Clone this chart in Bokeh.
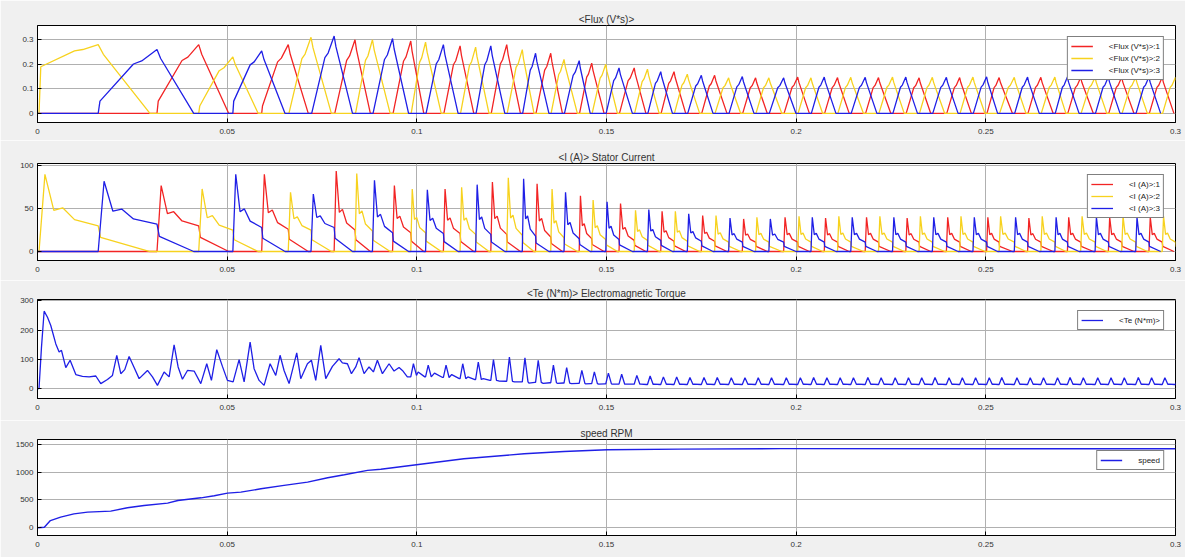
import numpy as np
from bokeh.plotting import figure
from bokeh.layouts import column
from bokeh.models import Range1d, FixedTicker, Legend, LegendItem
from bokeh.embed import file_html
from bokeh.resources import INLINE

# ---------------- data ----------------
time_ticks = [0, 0.05, 0.1, 0.15, 0.2, 0.25, 0.3]
time_labels = ["0", "0.05", "0.1", "0.15", "0.2", "0.25", "0.3"]

# commutation instants (s): turn-on of pulse n / turn-off (flux peak) of pulse n-1
switch_t = [0.0004, 0.0160, 0.0315, 0.0425, 0.0515, 0.0591, 0.0661, 0.0721, 0.0782, 0.0837,
            0.0883, 0.0936, 0.0984, 0.1023, 0.1070, 0.1114, 0.1155, 0.1195, 0.1237, 0.1278,
            0.1313, 0.1353, 0.1388, 0.1428, 0.1461, 0.1498, 0.1533, 0.1573, 0.1608, 0.1643,
            0.1678, 0.1713, 0.1750, 0.1785, 0.1822, 0.1858, 0.1893, 0.1928, 0.1967, 0.2004,
            0.2039, 0.2074, 0.2109, 0.2144, 0.2182, 0.2217, 0.2254, 0.2289, 0.2324, 0.2359,
            0.2396, 0.2431, 0.2466, 0.2502, 0.2535, 0.2575, 0.2610, 0.2645, 0.2682, 0.2715,
            0.2750, 0.2788, 0.2823, 0.2858, 0.2895, 0.2930, 0.2965, 0.3000]
phase_cycle = [2, 3, 1]          # pulse n belongs to phase phase_cycle[n % 3]

flux_peak = [0.28, 0.26, 0.28, 0.23, 0.255, 0.28, 0.31, 0.315, 0.30, 0.30, 0.305, 0.295,
             0.29, 0.28, 0.275, 0.27, 0.275, 0.28, 0.26, 0.245, 0.245, 0.22, 0.215, 0.205,
             0.20, 0.185, 0.185, 0.18, 0.17, 0.17, 0.16, 0.155, 0.155, 0.145, 0.15, 0.145,
             0.145, 0.145, 0.148, 0.145, 0.148, 0.146, 0.147, 0.147, 0.146, 0.148, 0.148,
             0.145, 0.147, 0.147, 0.146, 0.148, 0.149, 0.146, 0.147, 0.148, 0.147, 0.148,
             0.148, 0.146, 0.147, 0.148, 0.147, 0.147, 0.148, 0.147, 0.147]
flux_step = [0.19, 0.05, 0.05, 0.03, 0.05, 0.03]

current_spike = [90, 82, 77, 73, 90, 90, 69, 67, 94, 91, 83, 77, 73, 72, 73, 75, 78, 81,
                 86, 85, 79, 73, 69, 65, 60, 58, 56, 48, 49, 47, 47, 44, 42, 42, 39, 38,
                 40, 38, 40, 41, 40, 39, 41, 40, 40, 41, 40, 39, 41, 40, 40, 41, 40, 40,
                 41, 40, 39, 41, 40, 40, 41, 40, 40, 41, 40, 40, 41]
current_hold = [30, 32, 30, 25, 28, 26, 25, 28, 25, 24, 22, 22, 22, 21, 21, 20, 20, 20,
                19, 18, 17, 16, 15, 15, 14, 14, 13, 13, 13, 12, 12, 12, 12, 11, 11, 11,
                11, 11, 11, 11, 11, 11, 11, 11, 11, 11, 11, 11, 11, 11, 11, 11, 11, 11,
                11, 11, 11, 11, 11, 11, 11, 11, 11, 11, 11, 11, 11]

torque_t = [0, 0.0004, 0.00105, 0.00175, 0.00263, 0.0035, 0.00483, 0.0057, 0.00632, 0.00746,
            0.0086, 0.0101, 0.01185, 0.0136, 0.01537, 0.01668, 0.01844, 0.01976, 0.0209,
            0.02196, 0.023, 0.02415, 0.02547, 0.02679, 0.02899, 0.03031, 0.03162, 0.03338,
            0.0347, 0.03601, 0.03707, 0.03821, 0.03953, 0.04129, 0.04305, 0.04462, 0.04585,
            0.04726, 0.04875, 0.05007, 0.05157, 0.05315, 0.05447, 0.05605, 0.0571, 0.05842,
            0.05974, 0.06132, 0.06281, 0.06395, 0.065, 0.06632, 0.06834, 0.0694, 0.07116,
            0.07221, 0.07335, 0.07467, 0.07599, 0.07775, 0.0795, 0.08038, 0.0817, 0.08276,
            0.0839, 0.08477, 0.08609, 0.08741, 0.08855, 0.0896, 0.09093, 0.09268, 0.094,
            0.09532, 0.0962, 0.0975]
torque_v = [0, 0, 142, 265, 244, 216, 153, 125, 131, 72, 97, 48, 42, 40, 43, 17, 31, 45, 114,
            51, 65, 110, 72, 34, 62, 40, 11, 57, 40, 150, 74, 32, 62, 60, 17, 85, 28, 133, 76,
            28, 23, 99, 23, 159, 68, 28, 11, 85, 45, 114, 62, 17, 122, 34, 85, 97, 28, 148, 34,
            76, 102, 88, 85, 51, 74, 106, 51, 74, 57, 97, 51, 85, 60, 72, 62, 40]
torque_first_event = 12
torque_spike = [85, 80, 80, 85, 91, 99, 108, 105, 97, 80, 72, 62, 57, 53, 49, 45, 43, 40,
                40, 38, 38, 38, 37, 37, 37, 37, 37, 37, 38, 37, 37, 37, 38, 37, 37, 37, 37,
                38, 37, 37, 37, 37, 38, 37, 37, 37, 37, 38, 37, 37, 37, 37, 38, 37, 37, 37]
torque_dip = [45, 40, 38, 34, 31, 28, 25, 23, 21, 20, 19, 18, 17, 16, 15, 15, 14, 14, 14,
              14, 14, 14, 14, 14, 14, 14, 14, 14, 14, 14, 14, 14, 14, 14, 14, 14, 14, 14,
              14, 14, 14, 14, 14, 14, 14, 14, 14, 14, 14, 14, 14, 14, 14, 14, 14, 14]
torque_mid = [57, 53, 48, 40, 34, 26, 23, 19, 18, 18, 17, 16, 15, 15, 15, 15, 15, 15, 15,
              15, 15, 15, 15, 15, 15, 15, 15, 15, 15, 15, 15, 15, 15, 15, 15, 15, 15, 15,
              15, 15, 15, 15, 15, 15, 15, 15, 15, 15, 15, 15, 15, 15, 15, 15, 15, 15]

speed_t = [0, 0.0018, 0.0034, 0.0061, 0.0096, 0.0132, 0.0193, 0.0237, 0.0281, 0.0343, 0.037,
           0.0431, 0.0466, 0.0501, 0.0536, 0.0589, 0.065, 0.0712, 0.0765, 0.0809, 0.087,
           0.0905, 0.0999, 0.1124, 0.1283, 0.1388, 0.1502, 0.1695, 0.1959, 0.25, 0.3]
speed_rpm = [-10, 0, 121, 182, 242, 273, 291, 352, 394, 436, 485, 533, 570, 618, 636, 697,
             758, 818, 897, 952, 1030, 1050, 1133, 1241, 1331, 1373, 1404, 1416, 1424, 1423, 1423]

# ---------------- style ----------------
BG = "#f0f0f0"
GRID = "#b0b0b0"
FONT = "Liberation Sans"
COL = {1: "#f22424", 2: "#f7d21e", 3: "#1f1fe6"}


def bounds(n):
    a, b = switch_t[n], switch_t[n + 1]
    if n + 2 < len(switch_t):
        c = switch_t[n + 2] - 0.12 * (switch_t[n + 2] - b)
    else:
        c = b + 0.85 * (b - a)
    return a, b, c


def flux_pts(n):
    a, b, c = bounds(n)
    v = flux_peak[n]
    s = flux_step[n] if n < len(flux_step) else 0.0
    d = b - a
    return [(a, 0), (a + 0.03 * d, s), (a + 0.6 * d, s + 0.72 * (v - s)),
            (a + 0.74 * d, s + 0.78 * (v - s)), (b, v), (b + 0.1 * (c - b), 0.86 * v), (c, 0)]


def current_pts(n):
    a, b, c = bounds(n)
    S, H = current_spike[n], current_hold[n]
    d = b - a
    return [(a, 0), (a + 0.1 * d, S), (a + 0.25 * d, H + 0.3 * (S - H)),
            (a + 0.4 * d, H + 0.35 * (S - H)), (a + 0.6 * d, H + 0.12 * (S - H)),
            (b, H), (b + 0.04 * d, 0.55 * H), (c, 0)]


def phase_series(builder):
    out = {1: ([0.0], [0.0]), 2: ([0.0], [0.0]), 3: ([0.0], [0.0])}
    for n in range(len(switch_t) - 1):
        ph = phase_cycle[n % 3]
        xs, ys = out[ph]
        for x, y in builder(n):
            xs.append(x)
            ys.append(y)
    return out


def torque_series():
    xs, ys = list(torque_t), list(torque_v)
    for k, e in enumerate(switch_t[torque_first_event:]):
        i = torque_first_event + k
        T, D, M = torque_spike[k], torque_dip[k], torque_mid[k]
        xs += [e, e + 0.0007, e + 0.0015]
        ys += [ys[-1], T, D]
        if i + 1 < len(switch_t):
            en = switch_t[i + 1]
            xs += [0.5 * (e + en), en - 0.0002]
            ys += [M, torque_dip[k + 1] if k + 1 < len(torque_dip) else D]
    return xs, ys


def make_fig(height, yr, yticks, ylabels, title, top, bottom):
    p = figure(width=1185, height=height, x_range=Range1d(0, 0.3), y_range=Range1d(*yr),
               output_backend="svg", toolbar_location=None, title=title,
               min_border_left=37, min_border_right=10, min_border_top=top, min_border_bottom=bottom,
               background_fill_color="white", border_fill_color=BG,
               outline_line_color="black", outline_line_width=1)
    p.title.align = "center"
    p.title.text_font = FONT
    p.title.text_font_size = "10px"
    p.title.text_font_style = "normal"
    p.title.text_color = "#333333"
    p.title.standoff = 2
    p.xaxis.ticker = FixedTicker(ticks=time_ticks)
    p.xaxis.major_label_overrides = {t: l for t, l in zip(time_ticks, time_labels)}
    p.yaxis.ticker = FixedTicker(ticks=yticks)
    p.yaxis.major_label_overrides = {t: l for t, l in zip(yticks, ylabels)}
    p.xgrid.ticker = FixedTicker(ticks=time_ticks)
    p.ygrid.ticker = FixedTicker(ticks=yticks)
    for ax in (p.xaxis, p.yaxis):
        ax.major_tick_in = 4
        ax.major_tick_out = 0
        ax.minor_tick_line_color = None
        ax.axis_line_color = "black"
        ax.major_tick_line_color = "black"
        ax.major_label_text_font = FONT
        ax.major_label_text_font_size = "8px"
        ax.major_label_text_color = "#333333"
    p.xaxis.major_label_standoff = 6
    p.yaxis.major_label_standoff = 4
    p.grid.grid_line_color = GRID
    p.grid.grid_line_width = 1
    return p


def add_legend(p, items):
    lg = Legend(items=items, location="top_right", margin=11, padding=3, spacing=0,
                label_text_font=FONT, label_text_font_size="8px", label_text_color="#222222",
                label_height=12, glyph_height=10, glyph_width=22, label_standoff=16,
                border_line_color="black", border_line_width=1, background_fill_color="white",
                background_fill_alpha=1)
    p.add_layout(lg)


# ---- panel 1: flux
p1 = make_fig(140, (-0.037, 0.358), [0, 0.1, 0.2, 0.3], ["0", "0.1", "0.2", "0.3"],
              "<Flux (V*s)>", 25, 18)
fl = phase_series(flux_pts)
r1 = {}
for ph in (1, 2, 3):
    r1[ph] = p1.line(fl[ph][0], fl[ph][1], line_color=COL[ph], line_width=1.3)
add_legend(p1, [LegendItem(label="<Flux (V*s)>:%d" % ph, renderers=[r1[ph]]) for ph in (1, 2, 3)])

# ---- panel 2: current
p2 = make_fig(140, (-10.5, 102.7), [0, 50, 100], ["0", "50", "100"],
              "<I (A)> Stator Current", 23, 20)
cu = phase_series(current_pts)
r2 = {}
for ph in (1, 2, 3):
    r2[ph] = p2.line(cu[ph][0], cu[ph][1], line_color=COL[ph], line_width=1.3)
add_legend(p2, [LegendItem(label="<I (A)>:%d" % ph, renderers=[r2[ph]]) for ph in (1, 2, 3)])

# ---- panel 3: torque
p3 = make_fig(140, (-34, 305), [0, 100, 200, 300], ["0", "100", "200", "300"],
              "<Te (N*m)> Electromagnetic Torque", 19, 22)
tx, ty = torque_series()
r3 = p3.line(tx, ty, line_color=COL[3], line_width=1.3)
add_legend(p3, [LegendItem(label="<Te (N*m)>", renderers=[r3])])

# ---- panel 4: speed
p4 = make_fig(137, (-150, 1590), [0, 500, 1000, 1500], ["0", "500", "1000", "1500"],
              "speed RPM", 19, 22)
r4 = p4.line(speed_t, speed_rpm, line_color=COL[3], line_width=1.4)
add_legend(p4, [LegendItem(label="speed", renderers=[r4])])

layout = column(p1, p2, p3, p4, spacing=0)
html = file_html(layout, INLINE)
html = html.replace("<body>", '<body style="background-color:%s;">' % BG, 1)
open("out.html", "w").write(html)
